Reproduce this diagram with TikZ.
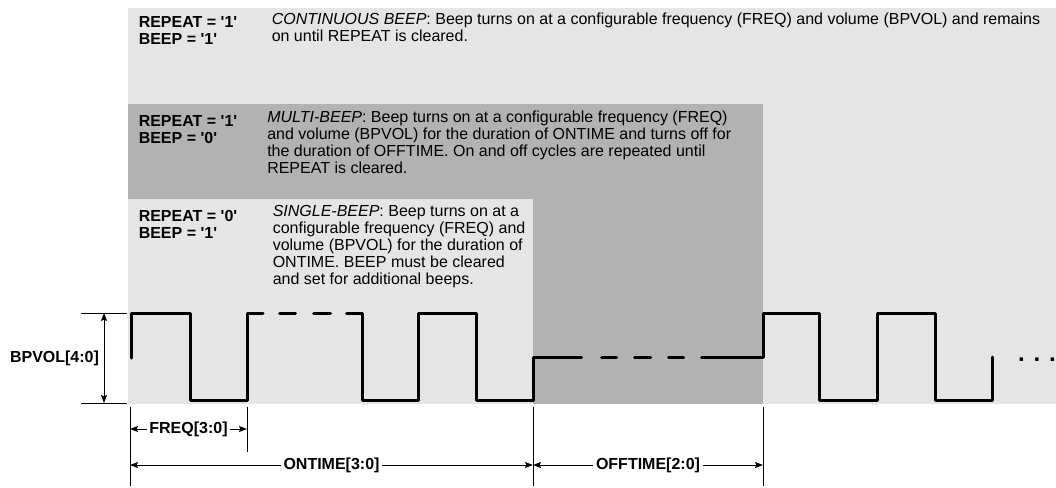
\documentclass[tikz,border=0pt]{standalone}
\usepackage{fontspec}
\setmainfont{Liberation Sans}
\usetikzlibrary{arrows.meta}
\definecolor{lightbg}{RGB}{229,229,229}
\definecolor{darkbg}{RGB}{178,178,178}
\newcommand\sq{\textquotesingle}
\tikzset{
  cond/.style={anchor=base west, inner sep=0pt, font=\fontsize{12}{12.75}\selectfont\bfseries},
  desc/.style={anchor=base west, inner sep=0pt, font=\fontsize{12}{12.75}\selectfont},
  wave/.style={line width=2.25pt, line cap=round, line join=round},
  dim/.style={line width=0.6pt},
  tip/.tip={Stealth[length=6pt,width=4.5pt,inset=1pt]},
  dimarrow/.style={dim, tip-tip},
  dimlabel/.style={font=\fontsize{12}{12}\selectfont\bfseries, inner sep=2pt, fill=white},
}
\begin{document}
\begin{tikzpicture}[x=0.75pt,y=-0.75pt]
\useasboundingbox (0,0) rectangle (1056,487);
% backgrounds
\fill[lightbg] (128,8) rectangle (1056,404);
\fill[darkbg] (128,104) rectangle (763,404);
\fill[lightbg] (128,199) rectangle (533,404);
% texts
\node[cond] (c1) at (138.5,27.5) {\begin{tabular}[t]{@{}l@{}}REPEAT = \sq1\sq\\BEEP = \sq1\sq\end{tabular}};
\node[desc] (d1) at (271.5,24) {\begin{tabular}[t]{@{}l@{}}\textit{CONTINUOUS BEEP}: Beep turns on at a configurable frequency (FREQ) and volume (BPVOL) and remains\\on until REPEAT is cleared.\end{tabular}};
\node[cond] (c2) at (138.5,126) {\begin{tabular}[t]{@{}l@{}}REPEAT = \sq1\sq\\BEEP = \sq0\sq\end{tabular}};
\node[desc] (d2) at (267,122.5) {\begin{tabular}[t]{@{}l@{}}\textit{MULTI-BEEP}: Beep turns on at a configurable frequency (FREQ)\\and volume (BPVOL) for the duration of ONTIME and turns off for\\the duration of OFFTIME. On and off cycles are repeated until\\REPEAT is cleared.\end{tabular}};
\node[cond] (c3) at (138.5,221) {\begin{tabular}[t]{@{}l@{}}REPEAT = \sq0\sq\\BEEP = \sq1\sq\end{tabular}};
\node[desc] (d3) at (272.5,216.5) {\begin{tabular}[t]{@{}l@{}}\textit{SINGLE-BEEP}: Beep turns on at a\\configurable frequency (FREQ) and\\volume (BPVOL) for the duration of\\ONTIME. BEEP must be cleared\\and set for additional beeps.\end{tabular}};
% waveform
\draw[wave] (131,358) -- (131,313) -- (190,313) -- (190,400) -- (247,400) -- (247,313) -- (263,313);
\draw[wave] (279.5,313) -- (295.5,313);
\draw[wave] (313.5,313) -- (330.5,313);
\draw[wave] (346.5,313) -- (362,313) -- (362,400) -- (418,400) -- (418,313) -- (476,313) -- (476,400) -- (533,400) -- (533,357) -- (581.5,357);
\draw[wave] (601.5,357) -- (616.5,357);
\draw[wave] (634.5,357) -- (650.5,357);
\draw[wave] (668.5,357) -- (683.5,357);
\draw[wave] (701.5,357) -- (763,357) -- (763,313) -- (819,313) -- (819,400) -- (877,400) -- (877,313) -- (935,313) -- (935,400) -- (992,400) -- (992,357);
\node[font=\fontsize{18}{18}\selectfont\bfseries, inner sep=0pt, anchor=base] (dots) at (1037,361) {. . .};
% BPVOL dimension
\coordinate (eT1) at (81,313); \coordinate (eT2) at (127,313);
\coordinate (eB1) at (81,403); \coordinate (eB2) at (127,403);
\draw[dim] (eT1) -- (eT2);
\draw[dim] (eB1) -- (eB2);
\coordinate (bvT) at (104,313); \coordinate (bvB) at (104,403);
\draw[dimarrow] (bvT) -- (bvB);
\node[font=\fontsize{12}{12}\selectfont\bfseries, inner sep=0pt] (bpvol) at (54.5,358) {BPVOL[4:0]};
% extension lines
\coordinate (x1a) at (130,407); \coordinate (x1b) at (130,486);
\coordinate (x2a) at (247,407); \coordinate (x2b) at (247,452);
\coordinate (x3a) at (533,407); \coordinate (x3b) at (533,486);
\coordinate (x4a) at (763,407); \coordinate (x4b) at (763,486);
\draw[dim] (x1a) -- (x1b);
\draw[dim] (x2a) -- (x2b);
\draw[dim] (x3a) -- (x3b);
\draw[dim] (x4a) -- (x4b);
% time dimensions
\coordinate (f1) at (130,429); \coordinate (f2) at (247,429);
\draw[dimarrow] (f1) -- node[dimlabel] (freq) {FREQ[3:0]} (f2);
\coordinate (o1) at (130,465); \coordinate (o2) at (533,465);
\draw[dimarrow] (o1) -- node[dimlabel] (ontime) {ONTIME[3:0]} (o2);
\coordinate (p1) at (533,465); \coordinate (p2) at (763,465);
\draw[dimarrow] (p1) -- node[dimlabel] (offtime) {OFFTIME[2:0]} (p2);
\end{tikzpicture}
\end{document}
